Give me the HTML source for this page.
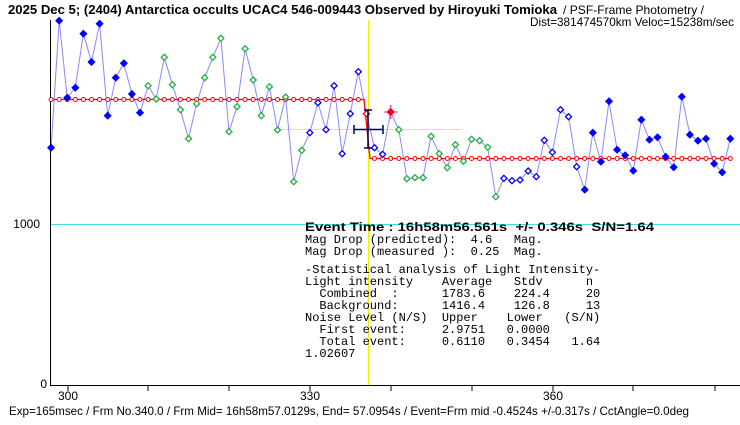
<!DOCTYPE html>
<html><head><meta charset="utf-8"><style>
html,body{margin:0;padding:0;background:#fff;}
svg{display:block;}
text{font-family:"Liberation Sans",sans-serif;}
text.m{font-family:"Liberation Mono",monospace;font-size:12px;white-space:pre;}
</style></head><body>
<svg id="s" width="740" height="425" viewBox="0 0 740 425" xmlns="http://www.w3.org/2000/svg">
<rect width="740" height="425" fill="#fff"/>
<text x="8" y="14" font-size="13" font-weight="bold" textLength="549" lengthAdjust="spacingAndGlyphs">2025 Dec 5; (2404) Antarctica occults UCAC4 546-009443 Observed by Hiroyuki Tomioka</text>
<text x="563" y="14" font-size="12" textLength="141" lengthAdjust="spacingAndGlyphs">/ PSF-Frame Photometry /</text>
<text x="530" y="26" font-size="12" textLength="204" lengthAdjust="spacingAndGlyphs">Dist=381474570km Veloc=15238m/sec</text>
<line x1="50" y1="224.5" x2="740" y2="224.5" stroke="#40e0e0" stroke-width="1"/>
<line x1="368.5" y1="20" x2="368.5" y2="385" stroke="#f0f000" stroke-width="1"/>
<line x1="276" y1="129.5" x2="462" y2="129.5" stroke="#f0f040" stroke-width="1"/>
<line x1="50.5" y1="20" x2="50.5" y2="386" stroke="#000"/>
<line x1="50" y1="385.5" x2="740" y2="385.5" stroke="#000"/>
<g stroke="#000"><line x1="68" y1="386" x2="68" y2="391"/><line x1="148" y1="386" x2="148" y2="391"/><line x1="229" y1="386" x2="229" y2="391"/><line x1="310" y1="386" x2="310" y2="391"/><line x1="391" y1="386" x2="391" y2="391"/><line x1="472" y1="386" x2="472" y2="391"/><line x1="553" y1="386" x2="553" y2="391"/><line x1="633" y1="386" x2="633" y2="391"/><line x1="715" y1="386" x2="715" y2="391"/></g>
<g font-size="12"><text x="68" y="400" text-anchor="middle">300</text><text x="310" y="400" text-anchor="middle">330</text><text x="553" y="400" text-anchor="middle">360</text>
<text x="40" y="228" text-anchor="end">1000</text><text x="47" y="388" text-anchor="end">0</text></g>
<g id="d"></g>
<g stroke="#000060" stroke-width="1.5"><line x1="354" y1="129.5" x2="383" y2="129.5"/><line x1="354" y1="125" x2="354" y2="134"/><line x1="383" y1="125" x2="383" y2="134"/><line x1="368" y1="110" x2="368" y2="148"/><line x1="364" y1="110" x2="372" y2="110"/><line x1="364" y1="148" x2="372" y2="148"/></g>
<text x="305" y="231" font-size="12" font-weight="bold" textLength="349" lengthAdjust="spacingAndGlyphs" style="white-space:pre">Event Time : 16h58m56.561s  +/- 0.346s  S/N=1.64</text>
<text class="m" x="305" y="243">Mag Drop (predicted):  4.6   Mag.</text>
<text class="m" x="305" y="255">Mag Drop (measured ):  0.25  Mag.</text>
<text class="m" x="305" y="273">-Statistical analysis of Light Intensity-</text>
<text class="m" x="305" y="285">Light intensity    Average   Stdv      n</text>
<text class="m" x="305" y="297">  Combined  :      1783.6    224.4     20</text>
<text class="m" x="305" y="309">  Background:      1416.4    126.8     13</text>
<text class="m" x="305" y="321">Noise Level (N/S)  Upper    Lower   (S/N)</text>
<text class="m" x="305" y="333">  First event:     2.9751   0.0000</text>
<text class="m" x="305" y="345">  Total event:     0.6110   0.3454   1.64</text>
<text class="m" x="305" y="357">1.02607</text>
<text x="9" y="415" font-size="12" textLength="680" lengthAdjust="spacingAndGlyphs">Exp=165msec / Frm No.340.0 / Frm Mid= 16h58m57.0129s,  End= 57.0954s / Event=Frm mid -0.4524s +/-0.317s / CctAngle=0.0deg</text>
</svg>
<script>
var ys=[147.7,20.7,97.7,87.7,33.7,62,23.7,115.7,77.7,63.3,94,112.7,85.7,99,57.3,84.7,109.7,138.7,103.7,77.7,57.3,38.3,131.7,106.7,48.7,80,115.7,86.7,130,97,181.7,150.3,132.7,102.7,129.7,85.7,153.7,113.7,71.7,113.7,147.7,154.3,112,129.7,178.7,177.7,177.7,136.3,153.7,167.7,144.7,161.3,139.3,140.7,147.3,196.7,178.3,180.7,180,171,176.7,140.3,152.3,109.7,116.7,166.7,189.7,132.7,161.7,101.3,149.7,155.3,170.7,119.7,139.7,137.3,156.7,167.3,96.7,134.7,140.7,138.7,163.7,172.3,138.7];
function X(i){return 51.07+i*8.086;}
function type(n){if(n<=12)return'F';if(n<=32)return'G';if(n<=39)return'O';if(n==40)return'R';if(n<=42)return'O';if(n==43)return'S';if(n<=56)return'G';if(n<=66)return'O';return'F';}
var h='';
var pts=ys.map(function(y,i){return X(i).toFixed(1)+','+y;}).join(' ');
h+='<polyline points="'+pts+'" fill="none" stroke="#8888ff" stroke-width="1"/>';
h+='<polyline points="51,99.5 364,99.5 370,158.5 731,158.5" fill="none" stroke="#ff0000" stroke-width="1.3"/>';
for(var i=0;i<85;i++){if(i<39)h+='<circle cx="'+X(i).toFixed(1)+'" cy="99.5" r="2" fill="#fff" stroke="#ff0000" stroke-width="1"/>';if(i>=40)h+='<circle cx="'+X(i).toFixed(1)+'" cy="158.5" r="2" fill="#fff" stroke="#ff0000" stroke-width="1"/>';}
function dia(x,y,r){return (x)+','+(y-r)+' '+(x+r)+','+y+' '+x+','+(y+r)+' '+(x-r)+','+y;}
for(var i=0;i<85;i++){var t=type(i+1),x=X(i),y=ys[i];
if(t=='F')h+='<polygon points="'+dia(x,y,3.5)+'" fill="#0000ff" stroke="#0000ff" stroke-width="0.8"/>';
else if(t=='G')h+='<polygon points="'+dia(x,y,3)+'" fill="#fff" stroke="#20b040" stroke-width="1.3"/>';
else if(t=='O')h+='<polygon points="'+dia(x,y,3)+'" fill="#fff" stroke="#0000ff" stroke-width="1.3"/>';
else if(t=='R')h+='<polygon points="'+dia(x,y,3)+'" fill="#fff" stroke="#ff0000" stroke-width="1.3"/>';
else if(t=='S'){h+='<line x1="'+(x-7)+'" y1="'+y+'" x2="'+(x+7)+'" y2="'+y+'" stroke="#ff00ff" stroke-width="1"/><line x1="'+x+'" y1="'+(y-7)+'" x2="'+x+'" y2="'+(y+7)+'" stroke="#ff00ff" stroke-width="1"/><polygon points="'+dia(x,y,3.5)+'" fill="#ff0000" stroke="#ff0000"/>';}
}
document.getElementById('d').innerHTML=h;
</script>
</body></html>
